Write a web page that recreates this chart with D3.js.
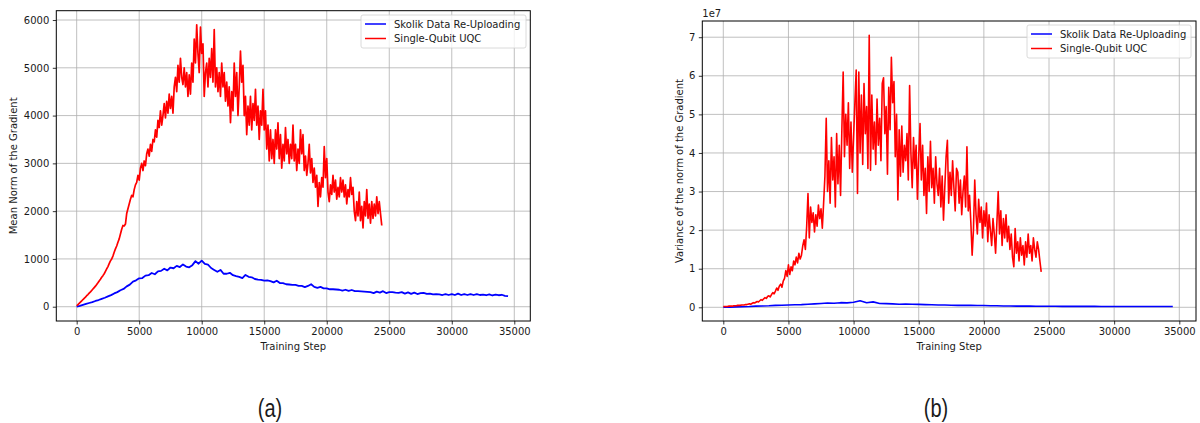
<!DOCTYPE html>
<html>
<head>
<meta charset="utf-8">
<script src="https://cdn.jsdelivr.net/npm/d3@7"></script>
<style>
  html, body { margin: 0; padding: 0; background: #fff; }
  svg { display: block; }
  text { font-family: "DejaVu Sans", sans-serif; fill: #1a1a1a; }
  .caption { font-family: "Liberation Sans", "DejaVu Sans", sans-serif; }
</style>
</head>
<body>
<svg id="fig" width="1200" height="423"></svg>
<script>
// ---------- data ----------
// Mean gradient norm, Single-Qubit UQC, one value every 100 training steps (0 .. 24400)
const redStepInterval = 100;
const meanNormUQC = [
  20,45,70,95,120,150,175,200,230,255,
  285,310,340,370,400,430,465,500,540,575,
  615,650,690,740,790,840,900,960,1000,1060,
  1140,1210,1270,1350,1420,1520,1620,1700,1690,1730,
  1950,2050,2150,2250,2330,2300,2450,2550,2600,2750,
  2650,2900,3000,2850,3050,2950,3200,3300,3150,3400,
  3250,3500,3450,3700,3550,3900,3750,4100,3800,4000,
  4250,3950,4300,4050,4450,4150,4400,4050,4600,4800,
  4500,5050,4700,5200,4800,4650,5000,4600,4900,4400,
  4850,4450,5100,4700,5600,5100,5900,5300,4900,5850,
  5300,5500,4400,4900,5100,4600,5200,4800,5400,4700,
  5800,4600,5000,4500,4900,4400,5100,4600,4900,4300,
  4700,4200,4600,3850,4500,4100,5100,4400,4900,4000,
  4600,5350,4700,5050,4000,4400,3600,4200,3800,4400,
  3700,4250,3900,4550,3800,4200,3500,4100,3800,4550,
  3700,4100,3300,3800,3050,3700,3100,3500,3000,3700,
  3300,3850,3100,3600,2900,3400,3050,3750,3200,3500,
  3000,3400,3100,3800,3050,3400,2850,3300,3000,3700,
  3200,3600,2850,3150,2750,3000,3400,2800,3100,2600,
  2900,2500,2750,2100,2600,2300,2700,2500,3350,2700,
  3100,2400,2200,2550,2350,2750,2400,2650,2250,2500,
  2300,2700,2400,2650,2300,2550,2150,2450,2300,2700,
  2350,2500,2000,1800,2200,1900,2400,1800,2100,1650,
  2200,1900,2450,1850,2150,1750,2200,1850,2150,1900,
  2300,1950,2200,1950,1700
];

// Mean gradient norm, Skolik data re-uploading, one value every 250 steps (0 .. 34500)
const blueStepInterval = 250;
const meanNormSkolik = [
  0,18,38,58,78,98,120,140,165,188,
  215,242,278,305,345,372,425,462,525,552,
  595,600,650,660,705,680,740,750,795,760,
  820,805,855,830,885,840,825,870,955,900,
  965,895,880,810,770,730,770,690,690,710,
  660,640,625,600,665,625,615,580,565,560,
  545,550,535,510,545,495,495,470,465,455,
  455,435,435,410,435,470,415,395,415,385,
  385,365,365,360,355,335,355,330,350,325,
  325,320,315,310,305,285,315,295,325,285,
  305,305,295,290,305,275,300,270,295,265,
  285,290,270,275,260,265,260,245,265,245,
  265,245,275,245,265,245,265,245,265,245,
  255,240,260,235,255,240,250,228,220
];

// Variance of the gradient norm (in units of 1e7), Single-Qubit UQC, every 100 steps
const varianceUQC = [
  0.02,0.02,0.02,0.02,0.03,0.03,0.03,0.03,0.04,0.04,
  0.04,0.05,0.05,0.05,0.06,0.06,0.06,0.07,0.07,0.08,
  0.09,0.08,0.10,0.12,0.11,0.13,0.15,0.14,0.17,0.20,
  0.18,0.22,0.25,0.23,0.28,0.30,0.27,0.33,0.38,0.35,
  0.42,0.50,0.44,0.55,0.60,0.52,0.68,0.75,0.95,0.80,
  1.10,0.85,1.05,0.95,1.20,1.10,1.30,1.15,1.40,1.25,
  1.35,1.60,1.75,1.50,2.10,2.95,1.80,2.60,2.20,2.45,
  1.95,2.40,2.10,2.65,2.30,2.55,2.05,2.70,3.40,4.90,
  3.00,3.80,2.70,4.40,3.30,3.90,2.60,4.50,3.20,4.20,
  2.90,4.60,6.10,3.90,5.00,4.20,5.30,3.60,4.80,3.50,
  4.40,5.30,6.15,2.95,6.10,4.00,5.50,3.70,5.80,4.50,
  5.20,3.60,7.05,3.55,5.50,4.10,4.80,3.70,5.40,4.20,
  4.90,3.80,5.80,5.95,4.50,5.20,3.45,5.70,4.60,6.48,
  5.30,5.85,3.90,5.00,2.78,4.60,3.40,4.70,3.50,4.20,
  3.80,4.50,3.30,5.75,4.00,3.10,4.40,3.60,4.20,2.80,
  3.90,4.76,3.30,4.20,2.90,3.60,2.43,3.90,3.00,4.30,
  3.10,3.60,2.70,3.90,3.20,2.90,3.60,2.60,3.40,2.26,
  3.10,3.90,4.33,2.70,3.50,2.90,3.80,3.10,2.50,3.60,
  3.50,2.70,3.30,2.40,3.00,3.40,2.60,4.16,2.50,2.90,
  2.20,1.35,2.00,3.30,2.40,1.90,2.80,2.20,2.60,1.80,
  2.50,2.10,2.70,1.70,2.40,2.00,1.60,2.30,1.90,1.40,
  2.20,3.00,1.90,2.50,1.60,2.30,1.80,2.40,1.70,2.10,
  1.50,1.90,1.30,1.05,2.04,1.40,1.70,1.20,1.80,1.35,
  1.60,1.10,1.70,1.30,1.90,1.40,1.60,1.20,1.80,1.50,
  1.30,1.70,1.50,1.20,0.92
];

// Variance of the gradient norm (in units of 1e7), Skolik, every 500 steps (0 .. 34500)
const varStepInterval = 500;
const varianceSkolik = [
  0.000,0.005,0.010,0.015,0.020,0.030,0.035,0.040,0.050,0.055,
  0.060,0.065,0.070,0.080,0.090,0.100,0.110,0.105,0.120,0.115,
  0.130,0.170,0.120,0.140,0.100,0.095,0.090,0.080,0.085,0.080,
  0.075,0.070,0.065,0.060,0.060,0.055,0.050,0.050,0.050,0.045,
  0.045,0.040,0.040,0.035,0.035,0.030,0.030,0.030,0.028,0.027,
  0.026,0.026,0.025,0.025,0.024,0.024,0.023,0.023,0.022,0.022,
  0.022,0.021,0.021,0.021,0.020,0.020,0.020,0.020,0.020,0.020
];

const xTicks = [0, 5000, 10000, 15000, 20000, 25000, 30000, 35000];
const meanTicks = [0, 1000, 2000, 3000, 4000, 5000, 6000];
const varTicks = [0, 1, 2, 3, 4, 5, 6, 7];
const seriesNames = ["Skolik Data Re-Uploading", "Single-Qubit UQC"];
const seriesColors = ["#0000ff", "#ff0000"];

const toPoints = (vals, interval) => vals.map((v, i) => [i * interval, v]);

// ---------- drawing ----------
const svg = d3.select("#fig");

function drawPanel(cfg) {
  const { box, xDomain, yDomain, yTicks, yLabel, series, legend, id } = cfg;
  const x = d3.scaleLinear().domain(xDomain).range([box.x0, box.x1]);
  const y = d3.scaleLinear().domain(yDomain).range([box.y1, box.y0]);
  const g = svg.append("g");

  g.append("clipPath").attr("id", "clip-" + id)
    .append("rect").attr("x", box.x0).attr("y", box.y0)
    .attr("width", box.x1 - box.x0).attr("height", box.y1 - box.y0);

  // grid
  const grid = g.append("g").attr("stroke", "#b0b0b0").attr("stroke-width", 0.8);
  xTicks.forEach(t => grid.append("line")
    .attr("x1", x(t)).attr("x2", x(t)).attr("y1", box.y0).attr("y2", box.y1));
  yTicks.forEach(t => grid.append("line")
    .attr("x1", box.x0).attr("x2", box.x1).attr("y1", y(t)).attr("y2", y(t)));

  // lines
  const line = d3.line().x(d => x(d[0])).y(d => y(d[1]));
  const plot = g.append("g").attr("clip-path", `url(#clip-${id})`);
  series.forEach(s => plot.append("path")
    .datum(s.points)
    .attr("fill", "none")
    .attr("stroke", s.color)
    .attr("stroke-width", s.width)
    .attr("stroke-linejoin", "round")
    .attr("d", line));

  // axes
  const xa = g.append("g").attr("transform", `translate(0,${box.y1})`)
    .call(d3.axisBottom(x).tickValues(xTicks).tickFormat(d3.format("d"))
      .tickSize(3.5).tickPadding(3.5).tickSizeOuter(0));
  const ya = g.append("g").attr("transform", `translate(${box.x0},0)`)
    .call(d3.axisLeft(y).tickValues(yTicks).tickFormat(d3.format("d"))
      .tickSize(3.5).tickPadding(3.5).tickSizeOuter(0));
  [xa, ya].forEach(a => {
    a.select(".domain").remove();
    a.selectAll(".tick line").attr("stroke", "#000").attr("stroke-width", 0.8);
    a.selectAll(".tick text").attr("font-size", 10)
      .attr("font-family", "DejaVu Sans").attr("fill", "#1a1a1a");
  });

  // frame
  g.append("rect").attr("x", box.x0).attr("y", box.y0)
    .attr("width", box.x1 - box.x0).attr("height", box.y1 - box.y0)
    .attr("fill", "none").attr("stroke", "#000").attr("stroke-width", 1);

  // axis labels
  g.append("text").attr("x", (box.x0 + box.x1) / 2).attr("y", 350)
    .attr("text-anchor", "middle").attr("font-size", 10).text("Training Step");
  g.append("text")
    .attr("transform", `translate(${cfg.yLabelX},${(box.y0 + box.y1) / 2}) rotate(-90)`)
    .attr("text-anchor", "middle").attr("font-size", 10).text(yLabel);

  if (cfg.offsetText) {
    g.append("text").attr("x", box.x0).attr("y", box.y0 - 4)
      .attr("font-size", 10).text(cfg.offsetText);
  }

  // legend
  const lg = g.append("g");
  lg.append("rect").attr("x", legend.x0).attr("y", legend.y0)
    .attr("width", legend.x1 - legend.x0).attr("height", legend.y1 - legend.y0)
    .attr("rx", 2).attr("fill", "#fff").attr("fill-opacity", 0.8)
    .attr("stroke", "#d0d0d0").attr("stroke-width", 0.8);
  series.forEach((s, i) => {
    const yy = legend.y0 + 9 + i * 14.5;
    lg.append("line").attr("x1", legend.x0 + 4).attr("x2", legend.x0 + 25)
      .attr("y1", yy).attr("y2", yy).attr("stroke", s.color).attr("stroke-width", 1.5);
    lg.append("text").attr("x", legend.x0 + 33).attr("y", yy + 3.5)
      .attr("font-size", 10).text(s.name);
  });
}

drawPanel({
  id: "a",
  box: { x0: 56.3, y0: 10.7, x1: 530.3, y1: 321 },
  xDomain: [-1630, 36280],
  yDomain: [-299, 6195],
  yTicks: meanTicks,
  yLabel: "Mean Norm of the Gradient",
  yLabelX: 17,
  series: [
    { name: seriesNames[0], color: seriesColors[0], width: 1.8, points: toPoints(meanNormSkolik, blueStepInterval) },
    { name: seriesNames[1], color: seriesColors[1], width: 1.7, points: toPoints(meanNormUQC, redStepInterval) }
  ],
  legend: { x0: 361, y0: 15, x1: 526, y1: 48 }
});

drawPanel({
  id: "b",
  box: { x0: 702.3, y0: 21, x1: 1196, y1: 321 },
  xDomain: [-1612, 36282],
  yDomain: [-0.355, 7.42],
  yTicks: varTicks,
  yLabel: "Variance of the norm of the Gradient",
  yLabelX: 683,
  offsetText: "1e7",
  series: [
    { name: seriesNames[0], color: seriesColors[0], width: 1.6, points: toPoints(varianceSkolik, varStepInterval) },
    { name: seriesNames[1], color: seriesColors[1], width: 1.6, points: toPoints(varianceUQC, redStepInterval) }
  ],
  legend: { x0: 1027, y0: 25, x1: 1191, y1: 58 }
});

// sub-figure captions, set in a narrow face
[["(a)", 270], ["(b)", 936]].forEach(([label, cx]) => {
  svg.append("text").attr("class", "caption")
    .attr("transform", `translate(${cx},417) scale(0.8,1)`)
    .attr("text-anchor", "middle").attr("font-size", 25).text(label);
});
</script>
</body>
</html>
